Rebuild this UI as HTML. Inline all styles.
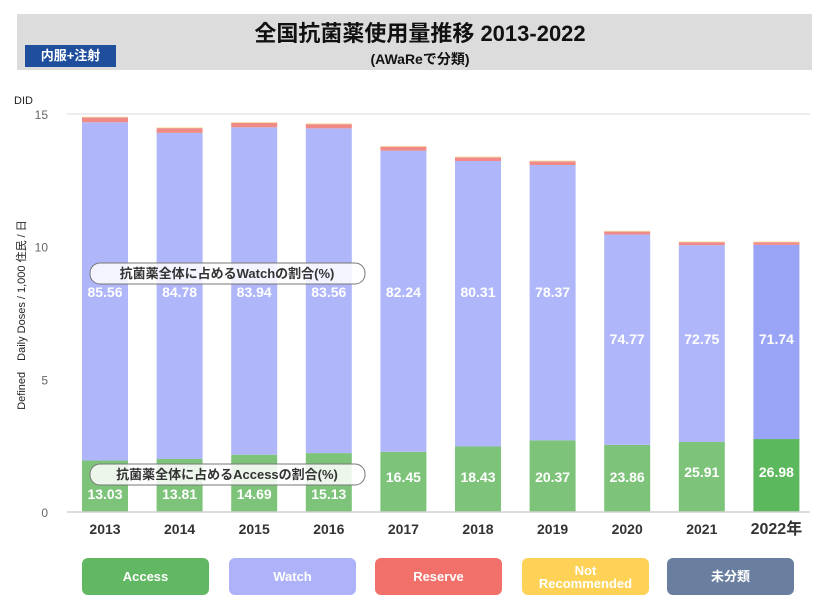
<!DOCTYPE html>
<html><head><meta charset="utf-8"><style>
body{margin:0;width:840px;height:615px;background:#fff;font-family:"Liberation Sans","Noto Sans CJK JP",sans-serif;overflow:hidden;position:relative}
.leg{position:absolute;top:558px;width:127px;height:37px;border-radius:6px;color:#fff;font-weight:bold;font-size:13px;display:flex;align-items:center;justify-content:center;text-align:center;line-height:13px}
</style></head><body>
<div style="position:absolute;left:17px;top:14px;width:795px;height:56px;background:#dcdcdc"></div>
<div style="position:absolute;left:0;width:840px;top:16px;text-align:center;font-size:22px;font-weight:bold;color:#111">全国抗菌薬使用量推移 2013-2022</div>
<div style="position:absolute;left:0;width:840px;top:49px;text-align:center;font-size:14px;font-weight:bold;color:#111">(AWaReで分類)</div>
<div style="position:absolute;left:25px;top:45px;width:91px;height:22px;background:#1f4e9c;color:#fff;font-size:13px;font-weight:bold;line-height:22px;text-align:center">内服+注射</div>
<svg id="c" width="840" height="615" style="position:absolute;left:0;top:0"></svg>
<div class="leg" style="left:82px;background:#62b862">Access</div>
<div class="leg" style="left:229px;background:#aeb2f8">Watch</div>
<div class="leg" style="left:375px;background:#f2706a">Reserve</div>
<div class="leg" style="left:522px;background:#fdd257">Not<br>Recommended</div>
<div class="leg" style="left:667px;background:#6a7fa0">未分類</div>
<script>
const years=["2013","2014","2015","2016","2017","2018","2019","2020","2021","2022年"];
const access=[1.94,2.00,2.16,2.22,2.27,2.47,2.70,2.53,2.64,2.75];
const watch=[12.75,12.29,12.34,12.24,11.35,10.76,10.38,7.93,7.42,7.32];
const reserve=[0.18,0.18,0.17,0.16,0.15,0.14,0.14,0.11,0.11,0.10];
const notRec=[0.03,0.03,0.03,0.03,0.03,0.03,0.03,0.03,0.03,0.03];
const watchPct=["85.56","84.78","83.94","83.56","82.24","80.31","78.37","74.77","72.75","71.74"];
const accessPct=["13.03","13.81","14.69","15.13","16.45","18.43","20.37","23.86","25.91","26.98"];
const yTicks=[0,5,10,15];
const svg=document.getElementById('c');const NS="http://www.w3.org/2000/svg";
const y=v=>512-v*26.53;const xc=i=>105+i*74.6;const bw=46;
function mk(t,a){const e=document.createElementNS(NS,t);for(const k in a)e.setAttribute(k,a[k]);svg.appendChild(e);return e;}
let g=mk('line',{x1:67,x2:810,y1:y(15),y2:y(15),stroke:'#d8d8d8'});


yTicks.forEach(t=>{const e=mk('text',{x:48,y:y(t)+5,'text-anchor':'end','font-size':12,fill:'#666'});e.textContent=t;

});
let d=mk('text',{x:14,y:104,'font-size':11,fill:'#222'});d.textContent='DID';


let yt=mk('text',{x:0,y:0,'font-size':11,fill:'#222','text-anchor':'middle',transform:'translate(25,315) rotate(-90)'});yt.textContent='Defined　Daily Doses / 1,000 住民 / 日';


years.forEach((yr,i)=>{
 const last=i===years.length-1;
 let b=0;const segs=[[access[i],last?'#5cb85c':'#7dc47a','access'],[watch[i],last?'#9aa4f6':'#b0b6fa','watch'],[reserve[i],'#ef8a86','reserve'],[notRec[i],'#f8dfa8','not-recommended']];
 segs.forEach(s=>{const r=mk('rect',{x:xc(i)-bw/2,y:y(b+s[0]),width:bw,height:s[0]*26.53,fill:s[1]});
 
 b+=s[0];});
 const wy=i<7?297:344;
 let t=mk('text',{x:xc(i),y:wy,'text-anchor':'middle','font-size':14,'font-weight':'bold',fill:'#fff'});t.textContent=watchPct[i];
 
 
 const ay=i<4?499:(i<8?482:477);
 t=mk('text',{x:xc(i),y:ay,'text-anchor':'middle','font-size':14,'font-weight':'bold',fill:'#fff'});t.textContent=accessPct[i];
 
 
 t=mk('text',{x:xc(i),y:534,'text-anchor':'middle','font-size':last?16:14,'font-weight':'bold',fill:'#333'});t.textContent=yr;
 
 
});
g=mk('line',{x1:67,x2:810,y1:512,y2:512,stroke:'#d0d0d0','stroke-width':1.5});


[['watch',263,'抗菌薬全体に占めるWatchの割合(%)'],['access',464,'抗菌薬全体に占めるAccessの割合(%)']].forEach(c=>{
 const r=mk('rect',{x:90,y:c[1],width:275,height:21,rx:10,fill:'rgba(255,255,255,0.85)',stroke:'#777'});
 
 
 const t=mk('text',{x:227,y:c[1]+15,'text-anchor':'middle','font-size':13,'font-weight':'bold',fill:'#333'});t.textContent=c[2];
 
 
});
</script>
</body></html>
